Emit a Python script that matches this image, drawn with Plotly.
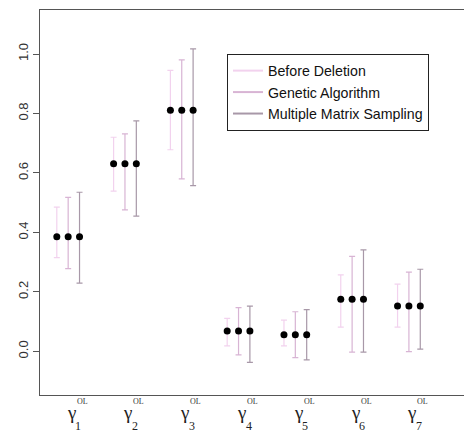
import plotly.graph_objects as go

params = ["1", "2", "3", "4", "5", "6", "7"]
methods = ["Before Deletion", "Genetic Algorithm", "Multiple Matrix Sampling"]
colors = ["#f2d2ee", "#d8b4d4", "#a898a8"]
offsets = [-0.2, 0.0, 0.2]

estimates = [0.385, 0.631, 0.811, 0.068, 0.056, 0.175, 0.152]

lower = {
    "Before Deletion":          [0.315, 0.539, 0.678, 0.018, 0.018, 0.081, 0.081],
    "Genetic Algorithm":        [0.278, 0.476, 0.580, -0.012, -0.021, -0.003, -0.001],
    "Multiple Matrix Sampling": [0.229, 0.455, 0.557, -0.037, -0.029, -0.003, 0.007],
}
upper = {
    "Before Deletion":          [0.485, 0.720, 0.945, 0.111, 0.105, 0.257, 0.226],
    "Genetic Algorithm":        [0.518, 0.731, 0.980, 0.147, 0.133, 0.319, 0.266],
    "Multiple Matrix Sampling": [0.535, 0.775, 1.017, 0.152, 0.140, 0.341, 0.276],
}

ytick_vals = [0.0, 0.2, 0.4, 0.6, 0.8, 1.0]
xsymbol = "γ"
xsuper = "OL"

fig = go.Figure()
xpos = list(range(1, len(params) + 1))

for m, c, off in zip(methods, colors, offsets):
    xs = [x + off for x in xpos]
    fig.add_trace(go.Scatter(
        x=xs, y=estimates, mode="markers",
        marker=dict(color="black", size=7),
        error_y=dict(type="data", symmetric=False,
                     array=[u - e for u, e in zip(upper[m], estimates)],
                     arrayminus=[e - l for l, e in zip(lower[m], estimates)],
                     color=c, thickness=1.2, width=3),
        showlegend=False, hoverinfo="skip",
    ))

for m, c in zip(methods, colors):
    fig.add_trace(go.Scatter(x=[None], y=[None], mode="lines",
                             line=dict(color=c, width=2), name=m))

annotations = []
for x, p in zip(xpos, params):
    annotations.append(dict(x=x, y=0, xref="x", yref="paper", text=xsymbol,
                            showarrow=False, xanchor="center", yanchor="middle",
                            xshift=3, yshift=-17,
                            font=dict(family="Liberation Serif", size=19, color="#222")))
    annotations.append(dict(x=x, y=0, xref="x", yref="paper", text=xsuper,
                            showarrow=False, xanchor="center", yanchor="middle",
                            xshift=14, yshift=-6.5,
                            font=dict(family="Liberation Serif", size=8, color="#333")))
    annotations.append(dict(x=x, y=0, xref="x", yref="paper", text=p,
                            showarrow=False, xanchor="center", yanchor="middle",
                            xshift=10, yshift=-31,
                            font=dict(family="Liberation Serif", size=12, color="#222")))

fig.update_layout(
    template="none",
    width=464, height=434,
    margin=dict(l=40, r=0, t=10, b=39),
    plot_bgcolor="white", paper_bgcolor="white",
    font=dict(family="Liberation Sans", size=13, color="#333"),
    showlegend=True,
    xaxis=dict(range=[0.504, 7.97], tickvals=xpos, showticklabels=False,
               ticks="", showline=True, mirror=True, linecolor="#555", linewidth=1,
               showgrid=False, zeroline=False),
    yaxis=dict(range=[-0.147, 1.148], tickvals=ytick_vals, tickformat=".1f",
               ticks="outside", ticklen=6, tickwidth=1, tickcolor="#555", tickangle=-90,
               showline=True, mirror=False, linecolor="#555", linewidth=1,
               showgrid=False, zeroline=False,
               tickfont=dict(family="Liberation Sans", size=13, color="#333")),
    legend=dict(x=0.441, y=0.886, xanchor="left", yanchor="top",
                bordercolor="#222", borderwidth=1, bgcolor="white",
                font=dict(family="Liberation Sans", size=14.2, color="#111")),
    annotations=annotations,
)

fig.write_html("out.html")
